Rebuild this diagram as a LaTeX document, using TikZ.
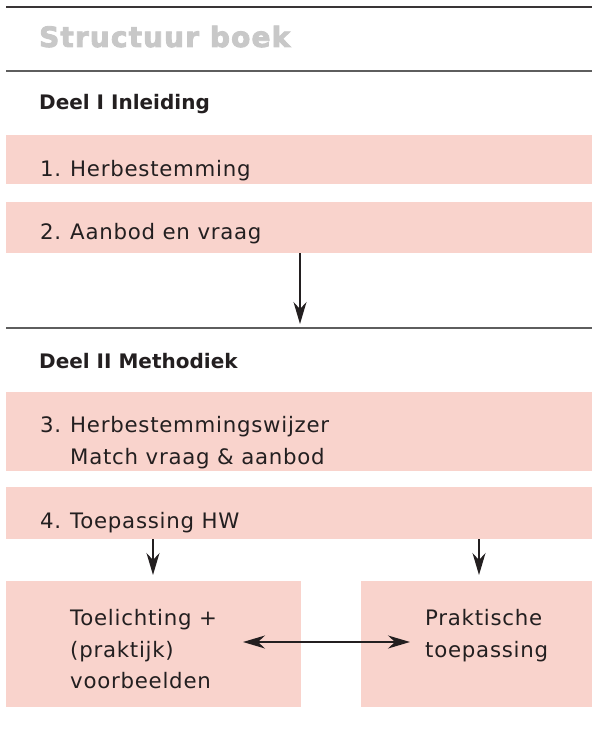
\documentclass[tikz,border=0pt]{standalone}
\usepackage{fontspec}
\setmainfont{DejaVu Sans}
\newfontfamily\bodyfont[LetterSpace=3.5]{DejaVu Sans}
\newfontfamily\headfont{DejaVu Sans}
\newfontfamily\titlefont[LetterSpace=4,BoldFeatures={FakeBold=3}]{DejaVu Sans}
\usetikzlibrary{arrows.meta}
\definecolor{boxpink}{HTML}{F9D3CC}
\definecolor{ink}{HTML}{231F20}
\definecolor{titlegray}{HTML}{C8C8C8}
\definecolor{rulegray}{HTML}{5E5E5E}
\tikzset{
  box/.style={fill=boxpink, draw=none, anchor=north west, inner sep=0pt},
  txt/.style={anchor=base west, inner sep=0pt, text=ink, font=\bodyfont\fontsize{21.3}{32}\selectfont},
  head/.style={anchor=base west, inner sep=0pt, text=ink, font=\headfont\bfseries\fontsize{20}{26}\selectfont},
  ttl/.style={anchor=base west, inner sep=0pt, text=titlegray, font=\titlefont\bfseries\fontsize{28}{32}\selectfont},
  toprule/.style={draw=ink!90, line width=1.5pt},
  midrule/.style={draw=rulegray, line width=1.6pt},
  arr/.style={draw=ink, line width=1.4pt, -{Stealth[length=22pt,width=13pt,inset=7pt]}},
  darr/.style={draw=ink, line width=1.4pt, {Stealth[length=22pt,width=13pt,inset=7pt]}-{Stealth[length=22pt,width=13pt,inset=7pt]}}
}
\newcommand{\numlbl}[1]{\makebox[30pt][l]{#1}}
\begin{document}
\begin{tikzpicture}[x=1pt,y=-1pt]
\useasboundingbox (0,0) rectangle (592,743);
% rules
\coordinate (r1a) at (6,7);   \coordinate (r1b) at (592,7);
\coordinate (r2a) at (6,71);  \coordinate (r2b) at (592,71);
\coordinate (r3a) at (6,328); \coordinate (r3b) at (592,328);
\draw[toprule] (r1a) -- (r1b);
\draw[midrule] (r2a) -- (r2b);
\draw[midrule] (r3a) -- (r3b);
% title and headings
\node[ttl] (title) at (39,47) {Structuur boek};
\node[head] (deel1) at (39,110) {Deel I Inleiding};
\node[head] (deel2) at (39,368) {Deel II Methodiek};
% boxes
\node[box, minimum width=586pt, minimum height=49pt] (b1) at (6,135) {};
\node[box, minimum width=586pt, minimum height=51pt] (b2) at (6,202) {};
\node[box, minimum width=586pt, minimum height=79pt] (b3) at (6,392) {};
\node[box, minimum width=586pt, minimum height=52pt] (b4) at (6,487) {};
\node[box, minimum width=295pt, minimum height=126pt] (b5) at (6,581) {};
\node[box, minimum width=231pt, minimum height=126pt] (b6) at (361,581) {};
% box texts
\node[txt] (t1) at (40,177) {\numlbl{1.}Herbestemming};
\node[txt] (t2) at (40,240) {\numlbl{2.}Aanbod en vraag};
\node[txt] (t3a) at (40,432) {\numlbl{3.}Herbestemmingswijzer};
\node[txt] (t3b) at (70,464) {Match vraag \& aanbod};
\node[txt] (t4) at (40,528) {\numlbl{4.}Toepassing HW};
\node[txt] (t5a) at (70,625) {Toelichting +};
\node[txt] (t5b) at (70,657) {(praktijk)};
\node[txt] (t5c) at (70,688) {voorbeelden};
\node[txt] (t6a) at (425,625) {Praktische};
\node[txt] (t6b) at (425,657) {toepassing};
% connectors
\draw[arr] (b2.south -| 300,0) -- ([yshift=4pt]r3a -| 300,0);
\draw[arr] (b4.south -| 153,0) -- ([yshift=6pt]b5.north -| 153,0);
\draw[arr] (b4.south -| 479,0) -- ([yshift=6pt]b6.north -| 479,0);
\coordinate (dl) at (243,642);
\coordinate (dr) at (410,642);
\draw[darr] (dl) -- (dr);
\end{tikzpicture}
\end{document}
